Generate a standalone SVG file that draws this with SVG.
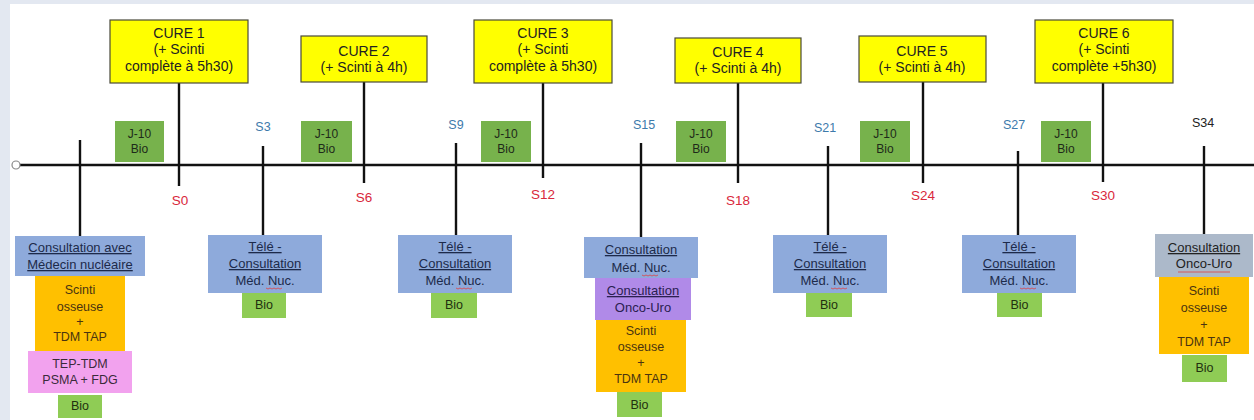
<svg xmlns="http://www.w3.org/2000/svg" width="1254" height="420" viewBox="0 0 1254 420">
<style>
text{font-family:"Liberation Sans","DejaVu Sans",sans-serif;text-anchor:middle}
.cure{fill:#ffff00;stroke:#4a4a3a;stroke-width:1.2}
.t{font-size:14px;fill:#222}
.j{fill:#77b24c}
.jt{font-size:12px;fill:#1e2a1a}
.blue{fill:#8eaadb}
.bt{font-size:13px;fill:#1d2a4a}
.u{text-decoration:underline}
.org{fill:#ffc000}
.ot{font-size:12.5px;fill:#4a3410}
.pink{fill:#f2a2ee}
.purp{fill:#b08ae8}
.grey{fill:#acb9ca}
.bio{fill:#8fcc55}
.red{font-size:13.5px;fill:#d9283c}
.sb{font-size:12.5px;fill:#3d7aab}
.ln{stroke:#111;stroke-width:2.4;fill:none}
.sq{stroke:#e04040;stroke-width:0.8;fill:none}
</style>
<rect x="0" y="0" width="1254" height="420" fill="#e3e8f1"/>
<rect x="10" y="4" width="1244" height="416" fill="#ffffff"/>

<g id="connectors">
<line class="ln" x1="20" y1="165" x2="1254" y2="165"/>
<circle cx="16" cy="165" r="4" fill="#fff" stroke="#888" stroke-width="1.2"/>
<line class="ln" x1="80" y1="140" x2="80" y2="236"/>
<line class="ln" x1="179" y1="83" x2="179" y2="186"/>
<line class="ln" x1="263" y1="146" x2="263" y2="235"/>
<line class="ln" x1="364" y1="82" x2="364" y2="183"/>
<line class="ln" x1="456" y1="143" x2="456" y2="235"/>
<line class="ln" x1="543" y1="83" x2="543" y2="178"/>
<line class="ln" x1="641" y1="143" x2="641" y2="237"/>
<line class="ln" x1="738" y1="83" x2="738" y2="183"/>
<line class="ln" x1="828" y1="146" x2="828" y2="235"/>
<line class="ln" x1="923" y1="82" x2="923" y2="183"/>
<line class="ln" x1="1018" y1="151" x2="1018" y2="235"/>
<line class="ln" x1="1103" y1="83" x2="1103" y2="182"/>
<line class="ln" x1="1204" y1="146" x2="1204" y2="234"/>
</g>

<g id="cure1"><rect class="cure" x="110" y="20" width="138" height="63"/>
<text class="t" x="179" y="38">CURE 1</text><text class="t" x="179" y="54">(+ Scinti</text><text class="t" x="179" y="71">complète à 5h30)</text></g>
<g id="cure2"><rect class="cure" x="301" y="36" width="126" height="46"/>
<text class="t" x="364" y="56">CURE 2</text><text class="t" x="364" y="72">(+ Scinti à 4h)</text></g>
<g id="cure3"><rect class="cure" x="474" y="20" width="138" height="63"/>
<text class="t" x="543" y="38">CURE 3</text><text class="t" x="543" y="54">(+ Scinti</text><text class="t" x="543" y="71">complète à 5h30)</text></g>
<g id="cure4"><rect class="cure" x="675" y="38" width="126" height="45"/>
<text class="t" x="738" y="57">CURE 4</text><text class="t" x="738" y="73">(+ Scinti à 4h)</text></g>
<g id="cure5"><rect class="cure" x="859" y="36" width="127" height="46"/>
<text class="t" x="922" y="56">CURE 5</text><text class="t" x="922" y="72">(+ Scinti à 4h)</text></g>
<g id="cure6"><rect class="cure" x="1035" y="20" width="138" height="63"/>
<text class="t" x="1104" y="38">CURE 6</text><text class="t" x="1104" y="54">(+ Scinti</text><text class="t" x="1104" y="71">complète +5h30)</text></g>

<g id="j1"><rect class="j" x="115" y="121" width="49" height="41"/><text class="jt" x="139.5" y="138">J-10</text><text class="jt" x="139.5" y="153">Bio</text></g>
<g id="j2"><rect class="j" x="301" y="121" width="51" height="41"/><text class="jt" x="326.5" y="138">J-10</text><text class="jt" x="326.5" y="153">Bio</text></g>
<g id="j3"><rect class="j" x="481" y="121" width="50" height="41"/><text class="jt" x="506" y="138">J-10</text><text class="jt" x="506" y="153">Bio</text></g>
<g id="j4"><rect class="j" x="676" y="121" width="50" height="41"/><text class="jt" x="701" y="138">J-10</text><text class="jt" x="701" y="153">Bio</text></g>
<g id="j5"><rect class="j" x="860" y="121" width="50" height="41"/><text class="jt" x="885" y="138">J-10</text><text class="jt" x="885" y="153">Bio</text></g>
<g id="j6"><rect class="j" x="1041" y="121" width="50" height="41"/><text class="jt" x="1066" y="138">J-10</text><text class="jt" x="1066" y="153">Bio</text></g>

<g id="labels">
<text class="red" x="180" y="205">S0</text>
<text class="red" x="364" y="202">S6</text>
<text class="red" x="543" y="199">S12</text>
<text class="red" x="738" y="205">S18</text>
<text class="red" x="923" y="200">S24</text>
<text class="red" x="1103" y="200">S30</text>
<text class="sb" x="263" y="131">S3</text>
<text class="sb" x="456" y="129">S9</text>
<text class="sb" x="644" y="129">S15</text>
<text class="sb" x="825" y="132">S21</text>
<text class="sb" x="1014" y="129">S27</text>
<text class="sb" x="1203" y="127" style="fill:#222">S34</text>
</g>

<g id="col1">
<rect class="blue" x="15" y="236" width="130" height="40"/>
<text class="bt u" x="80" y="252">Consultation avec</text><text class="bt u" x="80" y="269">Médecin nucléaire</text>
<rect class="org" x="35" y="276" width="90" height="75"/>
<text class="ot" x="80" y="294">Scinti</text><text class="ot" x="80" y="311">osseuse</text><text class="ot" x="80" y="326">+</text><text class="ot" x="80" y="341">TDM TAP</text>
<rect class="pink" x="28" y="351" width="104" height="42"/>
<text class="ot" x="80" y="368" style="fill:#3a2a3a">TEP-TDM</text><text class="ot" x="80" y="384" style="fill:#3a2a3a">PSMA + FDG</text>
<rect class="bio" x="58" y="395" width="44" height="23"/>
<text class="ot" x="80" y="410" style="fill:#223010">Bio</text>
</g>

<g id="tele1">
<rect class="blue" x="208" y="235" width="114" height="58"/>
<text class="bt u" x="265" y="251">Télé -</text><text class="bt u" x="265" y="268">Consultation</text><text class="bt" x="265" y="285">Méd. Nuc.</text>
<path class="sq" d="M266,288 l2,1 2,-1 2,1 2,-1 2,1 2,-1 2,1 2,-1"/>
<rect class="bio" x="242" y="293" width="44" height="25"/>
<text class="ot" x="264" y="309" style="fill:#223010">Bio</text>
</g>

<g id="tele2">
<rect class="blue" x="398" y="235" width="114" height="58"/>
<text class="bt u" x="455" y="251">Télé -</text><text class="bt u" x="455" y="268">Consultation</text><text class="bt" x="455" y="285">Méd. Nuc.</text>
<path class="sq" d="M456,288 l2,1 2,-1 2,1 2,-1 2,1 2,-1 2,1 2,-1"/>
<rect class="bio" x="431" y="293" width="46" height="25"/>
<text class="ot" x="454" y="309" style="fill:#223010">Bio</text>
</g>

<g id="col15">
<rect class="blue" x="584" y="237" width="114" height="41"/>
<text class="bt u" x="641" y="254">Consultation</text><text class="bt" x="641" y="272">Méd. Nuc.</text>
<path class="sq" d="M642,275 l2,1 2,-1 2,1 2,-1 2,1 2,-1 2,1 2,-1"/>
<rect class="purp" x="595" y="278" width="96" height="42"/>
<text class="bt u" x="643" y="295" style="fill:#2a2050">Consultation</text><text class="bt" x="643" y="312" style="fill:#2a2050">Onco-Uro</text>
<rect class="org" x="596" y="320" width="90" height="72"/>
<text class="ot" x="641" y="335">Scinti</text><text class="ot" x="641" y="351">osseuse</text><text class="ot" x="641" y="367">+</text><text class="ot" x="641" y="383">TDM TAP</text>
<rect class="bio" x="617" y="392" width="45" height="25"/>
<text class="ot" x="639.5" y="409" style="fill:#223010">Bio</text>
</g>

<g id="tele3">
<rect class="blue" x="773" y="235" width="114" height="58"/>
<text class="bt u" x="830" y="251">Télé -</text><text class="bt u" x="830" y="268">Consultation</text><text class="bt" x="830" y="285">Méd. Nuc.</text>
<path class="sq" d="M831,288 l2,1 2,-1 2,1 2,-1 2,1 2,-1 2,1 2,-1"/>
<rect class="bio" x="806" y="293" width="46" height="24"/>
<text class="ot" x="829" y="309" style="fill:#223010">Bio</text>
</g>

<g id="tele4">
<rect class="blue" x="962" y="235" width="114" height="58"/>
<text class="bt u" x="1019" y="251">Télé -</text><text class="bt u" x="1019" y="268">Consultation</text><text class="bt" x="1019" y="285">Méd. Nuc.</text>
<path class="sq" d="M1020,288 l2,1 2,-1 2,1 2,-1 2,1 2,-1 2,1 2,-1"/>
<rect class="bio" x="997" y="293" width="45" height="24"/>
<text class="ot" x="1019.5" y="309" style="fill:#223010">Bio</text>
</g>

<g id="col34">
<rect class="grey" x="1155" y="234" width="98" height="43"/>
<text class="bt u" x="1204" y="252" style="fill:#222">Consultation</text><text class="bt" x="1204" y="268" style="fill:#222">Onco-Uro</text>
<path class="sq" d="M1178,272 h52"/>
<rect class="org" x="1159" y="277" width="90" height="77"/>
<text class="ot" x="1204" y="295">Scinti</text><text class="ot" x="1204" y="312">osseuse</text><text class="ot" x="1204" y="329">+</text><text class="ot" x="1204" y="346">TDM TAP</text>
<rect class="bio" x="1182" y="355" width="45" height="27"/>
<text class="ot" x="1204.5" y="372" style="fill:#223010">Bio</text>
</g>
</svg>
